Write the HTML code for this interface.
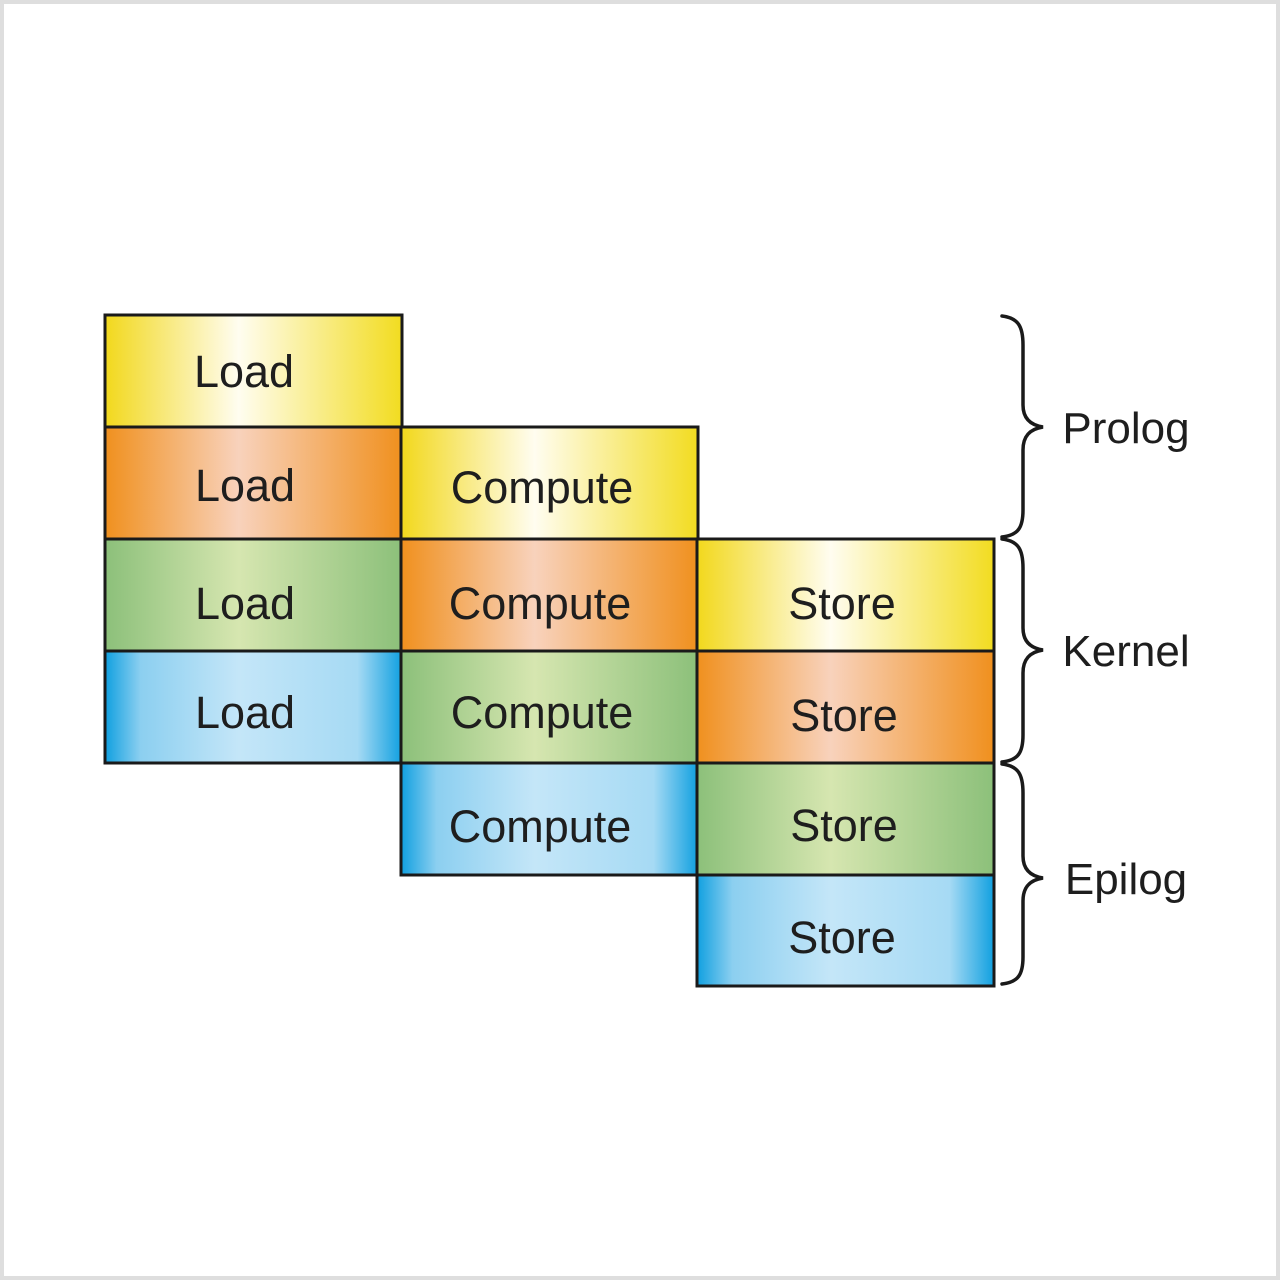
<!DOCTYPE html>
<html><head><meta charset="utf-8"><style>
html,body{margin:0;padding:0;background:#fff}
svg{display:block}
text{font-family:"Liberation Sans",sans-serif;font-size:45px;fill:#1e1e1e;text-anchor:middle}
</style></head><body>
<svg width="1280" height="1280" viewBox="0 0 1280 1280" xmlns="http://www.w3.org/2000/svg">
<defs>
<linearGradient id="y" x1="0" x2="1" y1="0" y2="0">
<stop offset="0" stop-color="#f2d81c"/><stop offset="0.45" stop-color="#fffdf0"/><stop offset="1" stop-color="#f2dc20"/></linearGradient>
<linearGradient id="o" x1="0" x2="1" y1="0" y2="0">
<stop offset="0" stop-color="#f0901e"/><stop offset="0.45" stop-color="#f8d2bc"/><stop offset="1" stop-color="#f0901e"/></linearGradient>
<linearGradient id="g" x1="0" x2="1" y1="0" y2="0">
<stop offset="0" stop-color="#8cc07a"/><stop offset="0.45" stop-color="#d6e6b0"/><stop offset="1" stop-color="#8cc07a"/></linearGradient>
<linearGradient id="b" x1="0" x2="1" y1="0" y2="0">
<stop offset="0" stop-color="#10a0e0"/><stop offset="0.12" stop-color="#8ccff0"/><stop offset="0.45" stop-color="#c4e6f8"/><stop offset="0.85" stop-color="#a6daf4"/><stop offset="1" stop-color="#10a0e0"/></linearGradient>
</defs>
<rect x="2" y="2" width="1276" height="1276" fill="#fff" stroke="#dedede" stroke-width="4"/>
<g stroke="#1a1a1a" stroke-width="3">
<rect x="105" y="315" width="297" height="112" fill="url(#y)"/>
<rect x="105" y="427" width="297" height="112" fill="url(#o)"/>
<rect x="105" y="539" width="297" height="112" fill="url(#g)"/>
<rect x="105" y="651" width="297" height="112" fill="url(#b)"/>
<rect x="401" y="427" width="297" height="112" fill="url(#y)"/>
<rect x="401" y="539" width="297" height="112" fill="url(#o)"/>
<rect x="401" y="651" width="297" height="112" fill="url(#g)"/>
<rect x="401" y="763" width="297" height="112" fill="url(#b)"/>
<rect x="697" y="539" width="297" height="112" fill="url(#y)"/>
<rect x="697" y="651" width="297" height="112" fill="url(#o)"/>
<rect x="697" y="763" width="297" height="112" fill="url(#g)"/>
<rect x="697" y="875" width="297" height="111" fill="url(#b)"/>
</g>
<text x="244" y="387">Load</text>
<text x="245" y="501">Load</text>
<text x="245" y="619">Load</text>
<text x="245" y="728">Load</text>
<text x="542" y="503">Compute</text>
<text x="540" y="619">Compute</text>
<text x="542" y="728">Compute</text>
<text x="540" y="842">Compute</text>
<text x="842" y="619">Store</text>
<text x="844" y="731">Store</text>
<text x="844" y="841">Store</text>
<text x="842" y="953">Store</text>
<g fill="none" stroke="#1a1a1a" stroke-width="3.5" stroke-linecap="round">
<path d="M1002,316 C1018,318 1023,326 1023,345 L1023,405 C1023,418 1030,425 1043,427 C1030,429 1023,436 1023,450 L1023,510 C1023,528 1018,535 1002,537"/>
<path d="M1002,539 C1018,541 1023,549 1023,568 L1023,628 C1023,641 1030,648 1043,650 C1030,652 1023,659 1023,673 L1023,735 C1023,753 1018,760 1002,762"/>
<path d="M1002,764 C1018,766 1023,774 1023,793 L1023,856 C1023,869 1030,876 1043,878 C1030,880 1023,887 1023,901 L1023,957 C1023,975 1018,982 1002,984"/>
</g>
<text x="1126" y="443" style="font-size:44px">Prolog</text>
<text x="1126" y="666" style="font-size:44px">Kernel</text>
<text x="1126" y="894" style="font-size:44px">Epilog</text>
</svg>
</body></html>
